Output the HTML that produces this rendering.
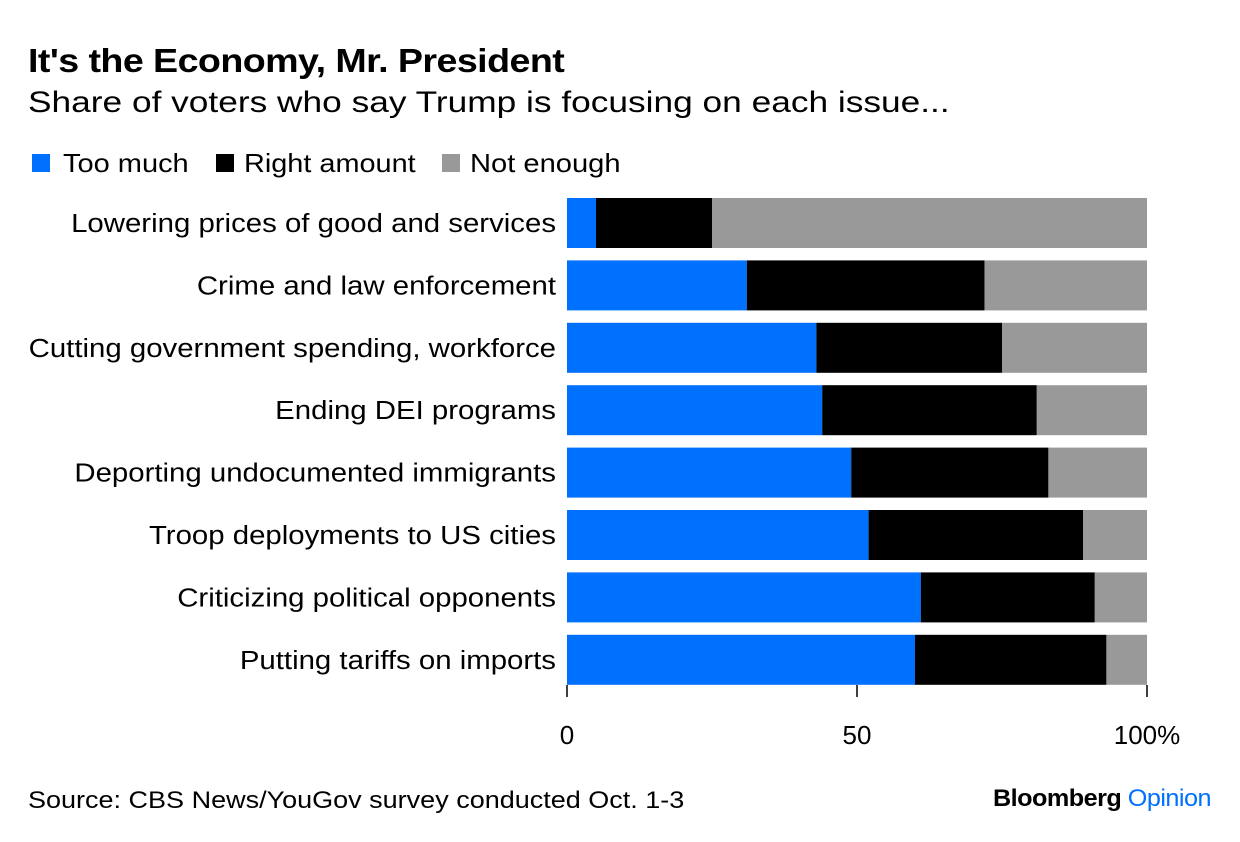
<!DOCTYPE html>
<html><head><meta charset="utf-8"><style>
body{margin:0;background:#fff;font-family:"Liberation Sans",sans-serif;}
#wrap{position:relative;width:1240px;height:842px;overflow:hidden;}
.t{position:absolute;white-space:nowrap;color:#000;transform-origin:0 0;}
</style></head><body>
<div id="wrap">
<div class="t" style="left:28px;top:42px;font-size:33px;font-weight:bold;letter-spacing:-0.5px;transform:scaleX(1.14)">It's the Economy, Mr. President</div>
<div class="t" style="left:28px;top:86px;font-size:30px;transform:scaleX(1.176)">Share of voters who say Trump is focusing on each issue...</div>
<div>
<div style="position:absolute;left:32px;top:154px;width:18px;height:18px;background:#0070ff"></div>
<div class="t" style="left:63px;top:148px;font-size:26px;transform:scaleX(1.115)">Too much</div>
<div style="position:absolute;left:216px;top:154px;width:18px;height:18px;background:#000"></div>
<div class="t" style="left:244px;top:148px;font-size:26px;transform:scaleX(1.11)">Right amount</div>
<div style="position:absolute;left:442px;top:154px;width:18px;height:18px;background:#999"></div>
<div class="t" style="left:470px;top:148px;font-size:26px;transform:scaleX(1.12)">Not enough</div>
</div>
<svg id="plot" width="1240" height="842" style="position:absolute;left:0;top:0"></svg>
<div class="t" style="left:28px;top:787px;font-size:24px;transform:scaleX(1.125)">Source: CBS News/YouGov survey conducted Oct. 1-3</div>
<div class="t" style="left:993px;top:785px;font-size:24px;font-weight:bold;letter-spacing:-0.5px;transform:scaleX(1.05)">Bloomberg <span style="color:#0070ff;font-weight:normal">Opinion</span></div>
</div>
<script>
const categories=["Lowering prices of good and services","Crime and law enforcement","Cutting government spending, workforce","Ending DEI programs","Deporting undocumented immigrants","Troop deployments to US cities","Criticizing political opponents","Putting tariffs on imports"];
const tooMuch=[5,31,43,44,49,52,61,60];
const rightAmount=[20,41,32,37,34,37,30,33];
const notEnough=[75,28,25,19,17,11,9,7];
const ticks=[0,50,100];
const tickLabels=["0","50","100%"];
const svg=document.getElementById('plot');
const NS='http://www.w3.org/2000/svg';
const x0=567,x1=1147;
const xs=v=>x0+(x1-x0)*v/100;
const yTop=198,pitch=62.4,bh=50;
const ys=i=>yTop+i*pitch;
function mk(tag,attrs){const e=document.createElementNS(NS,tag);for(const k in attrs)e.setAttribute(k,attrs[k]);svg.appendChild(e);return e;}
const series=[[tooMuch,'#0070ff','too-much'],[rightAmount,'#000000','right-amount'],[notEnough,'#999999','not-enough']];
categories.forEach((c,i)=>{
  let acc=0;
  series.forEach(([arr,col,nm])=>{
    const r=mk('rect',{x:xs(acc),y:ys(i),width:xs(acc+arr[i])-xs(acc),height:bh,fill:col});
    
    
    acc+=arr[i];
  });
  const t=mk('text',{x:0,y:0,transform:'translate(556,'+(ys(i)+bh/2+9)+') scale(1.13,1)','text-anchor':'end','font-size':26,'font-family':'Liberation Sans, sans-serif',fill:'#000'});
  t.textContent=c;
  
  
});
ticks.forEach((v,i)=>{
  const l=mk('line',{x1:xs(v),x2:xs(v),y1:685,y2:697,stroke:'#000','stroke-width':1.5});
  
  
  const t=mk('text',{x:xs(v),y:744,'text-anchor':'middle','font-size':26,'font-family':'Liberation Sans, sans-serif',fill:'#000'});
  t.textContent=tickLabels[i];
  
  
});
</script>
</body></html>
